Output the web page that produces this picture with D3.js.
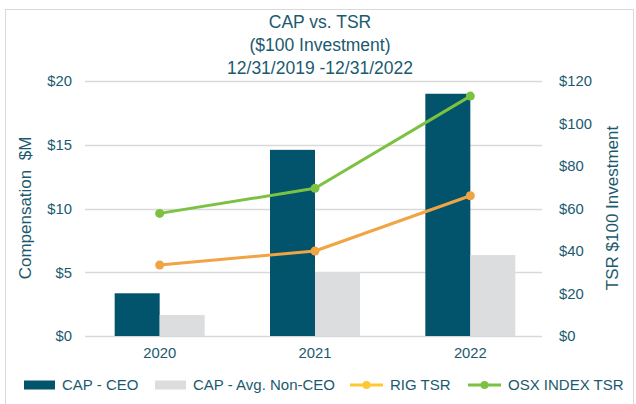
<!DOCTYPE html>
<html>
<head>
<meta charset="utf-8">
<script src="https://cdn.jsdelivr.net/npm/d3@7"></script>
<style>
  html, body { margin: 0; padding: 0; background: #fff; }
  svg { display: block; font-family: "Liberation Sans", Arial, sans-serif; }
</style>
</head>
<body>
<svg id="chart" width="636" height="404"></svg>
<script>
// Years on the category axis
const years = ["2020", "2021", "2022"];
// Compensation actually paid, $M (left axis)
const capCeo = [3.35, 14.6, 19.0];
const capNonCeo = [1.65, 5.0, 6.35];
// Value of a $100 investment (right axis)
const rigTsr = [33.4, 40.0, 66.0];
const osxTsr = [57.7, 69.5, 112.9];
// Axis ticks
const leftTicks = [0, 5, 10, 15, 20];
const rightTicks = [0, 20, 40, 60, 80, 100, 120];
const titleLines = ["CAP vs. TSR", "($100 Investment)", "12/31/2019 -12/31/2022"];

const textColor = "#1b5a6e";
const ceoColor = "#02536c";
const nonCeoColor = "#dcdddf";
const rigColor = "#f0a444";
const rigLegendColor = "#fdc832";
const osxColor = "#7cc242";
const gridColor = "#d9d9d9";
const tickFont = 14.8;

const svg = d3.select("#chart");

// outer frame
svg.append("rect")
  .attr("x", 5.5).attr("y", 9.5).attr("width", 628).attr("height", 420)
  .attr("fill", "none").attr("stroke", gridColor).attr("stroke-width", 1);

const plotTop = 81, plotBottom = 336, plotLeft = 82, plotRight = 548;

const x0 = d3.scaleBand().domain(years).range([plotLeft, plotRight]).padding(0);
const x1 = d3.scaleBand().domain(["ceo", "non"])
  .range([x0.bandwidth() / 2 - 45, x0.bandwidth() / 2 + 45]).padding(0);
const yL = d3.scaleLinear().domain([0, 20]).range([plotBottom, plotTop]);
const yR = d3.scaleLinear().domain([0, 120]).range([plotBottom, plotTop]);

// title
svg.append("g").selectAll("text").data(titleLines).join("text")
  .attr("x", 320).attr("y", (d, i) => 28 + i * 23)
  .attr("text-anchor", "middle")
  .attr("font-size", 17.5).attr("fill", textColor)
  .text(d => d);

// gridlines
svg.append("g").selectAll("line").data(leftTicks).join("line")
  .attr("x1", 85).attr("x2", 542)
  .attr("y1", d => Math.round(yL(d)) + 0.5).attr("y2", d => Math.round(yL(d)) + 0.5)
  .attr("stroke", gridColor).attr("stroke-width", 1.3);

// left axis
const leftAxis = svg.append("g").attr("transform", "translate(72,0)")
  .call(d3.axisLeft(yL).tickValues(leftTicks).tickSize(0).tickPadding(0).tickFormat(d => "$" + d));
leftAxis.select(".domain").remove();
leftAxis.selectAll("text").attr("font-size", tickFont).attr("fill", textColor)
  .attr("font-family", "Liberation Sans, Arial, sans-serif");

// right axis
const rightAxis = svg.append("g").attr("transform", "translate(559,0)")
  .call(d3.axisRight(yR).tickValues(rightTicks).tickSize(0).tickPadding(0).tickFormat(d => "$" + d));
rightAxis.select(".domain").remove();
rightAxis.selectAll("text").attr("font-size", tickFont).attr("fill", textColor)
  .attr("font-family", "Liberation Sans, Arial, sans-serif");

// axis titles
svg.append("text")
  .attr("transform", "translate(31,208) rotate(-90)")
  .attr("text-anchor", "middle").attr("font-size", 17).attr("fill", textColor)
  .attr("xml:space", "preserve").style("white-space", "pre")
  .text("Compensation  $M");
svg.append("text")
  .attr("transform", "translate(618,208) rotate(-90)")
  .attr("text-anchor", "middle").attr("font-size", 17).attr("fill", textColor)
  .text("TSR $100 Investment");

// bars
const groups = svg.append("g").selectAll("g").data(years).join("g")
  .attr("transform", d => `translate(${x0(d)},0)`);
groups.append("rect")
  .attr("x", x1("ceo")).attr("width", x1.bandwidth())
  .attr("y", (d, i) => yL(capCeo[i])).attr("height", (d, i) => yL(0) - yL(capCeo[i]))
  .attr("fill", ceoColor);
groups.append("rect")
  .attr("x", x1("non")).attr("width", x1.bandwidth())
  .attr("y", (d, i) => yL(capNonCeo[i])).attr("height", (d, i) => yL(0) - yL(capNonCeo[i]))
  .attr("fill", nonCeoColor);

// category labels
const bottomAxis = svg.append("g").attr("transform", `translate(0,${plotBottom})`)
  .call(d3.axisBottom(x0).tickSize(0).tickPadding(11));
bottomAxis.select(".domain").remove();
bottomAxis.selectAll("text").attr("font-size", tickFont).attr("fill", textColor)
  .attr("font-family", "Liberation Sans, Arial, sans-serif");

// TSR lines
const cx = d => x0(d) + x0.bandwidth() / 2;
function drawLine(values, color) {
  const pts = years.map((y, i) => [cx(y), yR(values[i])]);
  svg.append("path").datum(pts)
    .attr("d", d3.line())
    .attr("fill", "none").attr("stroke", color).attr("stroke-width", 3)
    .attr("stroke-linejoin", "round");
  svg.append("g").selectAll("circle").data(pts).join("circle")
    .attr("cx", d => d[0]).attr("cy", d => d[1]).attr("r", 4.5)
    .attr("fill", color);
}
drawLine(rigTsr, rigColor);
drawLine(osxTsr, osxColor);

// legend
const legendY = 385;
const legendItems = [
  { label: "CAP - CEO", type: "bar", color: ceoColor, x: 24 },
  { label: "CAP - Avg. Non-CEO", type: "bar", color: nonCeoColor, x: 155 },
  { label: "RIG TSR", type: "line", color: rigLegendColor, x: 350 },
  { label: "OSX INDEX TSR", type: "line", color: osxColor, x: 468 }
];
const lg = svg.append("g").selectAll("g").data(legendItems).join("g")
  .attr("transform", d => `translate(${d.x},${legendY})`);
lg.filter(d => d.type === "bar").append("rect")
  .attr("x", 0).attr("y", -4.5).attr("width", 31).attr("height", 9)
  .attr("fill", d => d.color);
lg.filter(d => d.type === "line").append("line")
  .attr("x1", 0).attr("x2", 33).attr("y1", 0).attr("y2", 0)
  .attr("stroke", d => d.color).attr("stroke-width", 3);
lg.filter(d => d.type === "line").append("circle")
  .attr("cx", 16.5).attr("cy", 0).attr("r", 4).attr("fill", d => d.color);
lg.append("text")
  .attr("x", d => d.type === "bar" ? 38 : 40).attr("y", 0).attr("dy", "0.35em")
  .attr("font-size", 15).attr("fill", textColor)
  .text(d => d.label);
</script>
</body>
</html>
